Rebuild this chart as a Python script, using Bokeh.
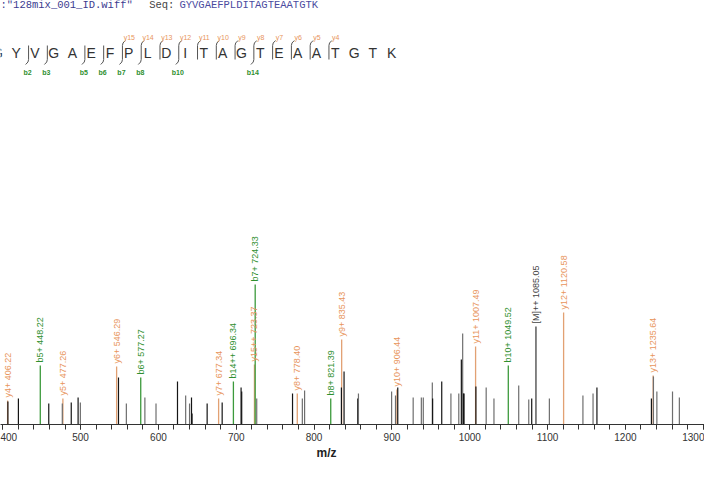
import math
from bokeh.plotting import figure
from bokeh.models import Range1d, SingleIntervalTicker, Label, ColumnDataSource, Title
from bokeh.core.properties import value
from bokeh.embed import file_html
from bokeh.resources import INLINE

# ---------------- data ----------------
file_name = ':"128mix_001_ID.wiff"'
seq_label = "Seq:"
sequence = "GYVGAEFPLDITAGTEAATGTK"
b_cleavages = [2, 3, 5, 6, 7, 8, 10, 14]          # b-ion numbers shown on the sequence
y_cleavages = [15, 14, 13, 12, 11, 10, 9, 8, 7, 6, 5, 4]  # y-ion numbers shown on the sequence
x_title = "m/z"

ion_labels = ["y4+ 406.22", "b5+ 448.22", "y5+ 477.26", "y6+ 546.29", "b6+ 577.27",
              "y7+ 677.34", "b14++ 696.34", "y15++ 723.37", "b7+ 724.33", "y8+ 778.40",
              "b8+ 821.39", "y9+ 835.43", "y10+ 906.44", "y11+ 1007.49", "b10+ 1049.52",
              "[M]++ 1085.05", "y12+ 1120.58", "y13+ 1235.64"]
ion_mz = [406.22, 448.22, 477.26, 546.29, 577.27, 677.34, 696.34, 723.37, 724.33, 778.40,
          821.39, 835.43, 906.44, 1007.49, 1049.52, 1085.05, 1120.58, 1235.64]
ion_int = [17.1, 42.1, 18.6, 41.4, 33.6, 18.6, 30.7, 42.9, 100.0, 22.1,
           18.6, 60.7, 25.0, 55.7, 42.1, 70.0, 80.0, 35.0]
ion_type = ["y", "b", "y", "y", "b", "y", "b", "y", "b", "y",
            "b", "y", "y", "y", "b", "M", "y", "y"]

peak_mz = [406.6, 420.1, 459.1, 476.5, 488.0, 496.8, 499.7, 548.7, 558.8, 582.6,
           596.9, 624.5, 635.0, 640.0, 642.5, 643.2, 662.6, 681.9, 706.2, 707.0,
           726.3, 772.3, 784.9, 787.8, 835.1, 838.5, 856.1, 857.0, 899.6, 904.6,
           907.5, 927.3, 937.8, 940.3, 951.9, 952.3, 964.0, 975.8, 985.9, 989.2,
           990.9, 992.0, 992.6, 1007.9, 1021.1, 1031.1, 1062.9, 1075.8, 1079.6, 1102.3,
           1145.4, 1158.4, 1163.4, 1233.4, 1236.0, 1240.4, 1260.5, 1269.3]
peak_int = [16.4, 18.6, 15.0, 15.0, 15.7, 19.3, 15.7, 33.6, 15.0, 19.3,
            15.0, 30.7, 20.7, 15.0, 19.3, 7.9, 15.0, 15.7, 26.4, 23.6,
            18.6, 22.1, 18.6, 24.3, 26.4, 37.9, 18.6, 22.1, 23.6, 20.7,
            26.4, 19.3, 19.3, 19.3, 30.0, 18.6, 30.7, 22.1, 22.1, 46.4,
            65.0, 22.1, 22.1, 27.1, 26.4, 18.6, 27.9, 17.9, 18.6, 18.6,
            20.7, 22.1, 26.4, 18.6, 34.3, 23.6, 23.6, 19.3]
peak_shade = ["k", "k", "k", "g", "k", "k", "g", "k", "g", "g",
              "g", "k", "g", "g", "k", "k", "k", "k", "k", "k",
              "g", "k", "g", "g", "k", "k", "k", "g", "g", "g",
              "k", "g", "g", "g", "g", "k", "k", "g", "g", "k",
              "g", "k", "k", "k", "g", "g", "g", "g", "k", "g",
              "g", "g", "k", "k", "g", "g", "g", "g"]

# ---------------- layout ----------------
W, H = 704, 464
FRAME_H = 424
X0, X1 = 397.1, 1301.6
Y1 = FRAME_H / 1.4

def dx(cx):
    return X0 + cx * (X1 - X0) / W

def dy(cy):
    return (FRAME_H - cy) * Y1 / FRAME_H

def rx(ref_x):
    return dx(0.9778 * ref_x)

def ry(ref_y):
    return dy(ref_y - 8)

Y_COL = "#E2A173"
Y_TXT = "#E8955C"
B_COL = "#3C9A3C"
B_TXT = "#2F8F2F"
M_COL = "#444444"
SHADE = {"k": "#151515", "g": "#6E6E6E"}

p = figure(width=W, height=H, output_backend="svg", toolbar_location=None,
           x_range=Range1d(X0, X1), y_range=Range1d(0, Y1),
           y_axis_location=None, min_border_left=0, min_border_right=0,
           min_border_top=0, min_border_bottom=H - FRAME_H)
p.outline_line_color = None
p.grid.visible = False
p.background_fill_color = "white"
p.border_fill_color = "white"

ax = p.xaxis[0]
ax.ticker = SingleIntervalTicker(interval=100, num_minor_ticks=5)
ax.axis_line_color = "#333333"
ax.major_tick_line_color = "#333333"
ax.minor_tick_line_color = "#333333"
ax.major_tick_out = 5
ax.major_tick_in = 0
ax.minor_tick_out = 5
ax.minor_tick_in = 0
ax.major_label_standoff = 3
ax.major_label_text_font = "Liberation Sans"
ax.major_label_text_font_size = "10px"
ax.major_label_text_color = "#333333"

# axis title placed under the axis (left-aligned with an offset, as in the reference)
p.add_layout(Title(text=x_title, align="left", offset=316, standoff=0,
                   text_font="Liberation Sans", text_font_size="12px",
                   text_font_style="bold", text_color="#222222"), "below")

# ---------------- peaks ----------------
ion_colors = [Y_COL if t == "y" else (B_COL if t == "b" else M_COL) for t in ion_type]
ion_tcolors = [Y_TXT if t == "y" else (B_TXT if t == "b" else M_COL) for t in ion_type]
ion_src = ColumnDataSource(dict(x=ion_mz, top=ion_int, zero=[0] * len(ion_mz),
                                lab=ion_labels, c=ion_colors, tc=ion_tcolors,
                                ly=[v + 3 / 1.4 for v in ion_int]))
p.segment(x0="x", y0="zero", x1="x", y1="top", color="c", line_width=1.3, source=ion_src)

pk_src = ColumnDataSource(dict(x=peak_mz, top=peak_int, zero=[0] * len(peak_mz),
                               c=[SHADE[s] for s in peak_shade]))
p.segment(x0="x", y0="zero", x1="x", y1="top", color="c", line_width=1.2, source=pk_src)

p.text(x="x", y="ly", text="lab", angle=math.pi / 2, text_align="left",
       text_baseline="middle", text_color="tc", text_font=value("Liberation Sans"),
       text_font_size="9px", source=ion_src)

# ---------------- header ----------------
p.add_layout(Label(x=rx(0), y=ry(12.5), text=file_name, text_font="Liberation Mono",
                   text_font_size="10.5px", text_color="#3b3b8f", text_baseline="middle"))
p.add_layout(Label(x=rx(152), y=ry(12.5), text=seq_label, text_font="Liberation Mono",
                   text_font_size="10.5px", text_color="#444444", text_baseline="middle"))
p.add_layout(Label(x=rx(183), y=ry(12.5), text=sequence, text_font="Liberation Mono",
                   text_font_size="10.5px", text_color="#4b4ba0", text_baseline="middle"))

def letter_ref_x(i):
    return -3.2 + 19.2 * i

seq_src = ColumnDataSource(dict(x=[rx(letter_ref_x(i)) for i in range(len(sequence))],
                                y=[ry(60)] * len(sequence), t=list(sequence)))
p.text(x="x", y="y", text="t", text_align="center", text_baseline="middle",
       text_color="#333333", text_font=value("Liberation Sans"), text_font_size="14px",
       source=seq_src)

n = len(sequence)
y_after = [n - k for k in y_cleavages]
cuts = sorted(set(b_cleavages) | set(y_after))
xs, ys = [], []
ylab_x, ylab_y, ylab_t = [], [], []
blab_x, blab_y, blab_t = [], [], []
for r in cuts:
    mx = letter_ref_x(r) - 6.5
    px, py = [], []
    if r in y_after:
        px += [mx + 3, mx + 0.6, mx]
        py += [48, 50.5, 53]
        ylab_x.append(rx(mx + 7)); ylab_y.append(ry(45)); ylab_t.append("y%d" % (n - r))
    else:
        px += [mx]
        py += [53]
    px += [mx]
    py += [67]
    if r in b_cleavages:
        px += [mx - 0.6, mx - 3]
        py += [69.5, 72]
        blab_x.append(rx(mx - 1)); blab_y.append(ry(80)); blab_t.append("b%d" % r)
    xs.append([rx(v) for v in px])
    ys.append([ry(v) for v in py])
p.multi_line(xs=xs, ys=ys, line_color="#555555", line_width=1)
p.text(x=ylab_x, y=ylab_y, text=ylab_t, text_align="center", text_baseline="middle",
       text_color=Y_TXT, text_font=value("Liberation Sans"), text_font_size="7px")
p.text(x=blab_x, y=blab_y, text=blab_t, text_align="center", text_baseline="middle",
       text_color=B_TXT, text_font=value("Liberation Sans"), text_font_size="7px",
       text_font_style="bold")

open("out.html", "w").write(file_html(p, INLINE))
